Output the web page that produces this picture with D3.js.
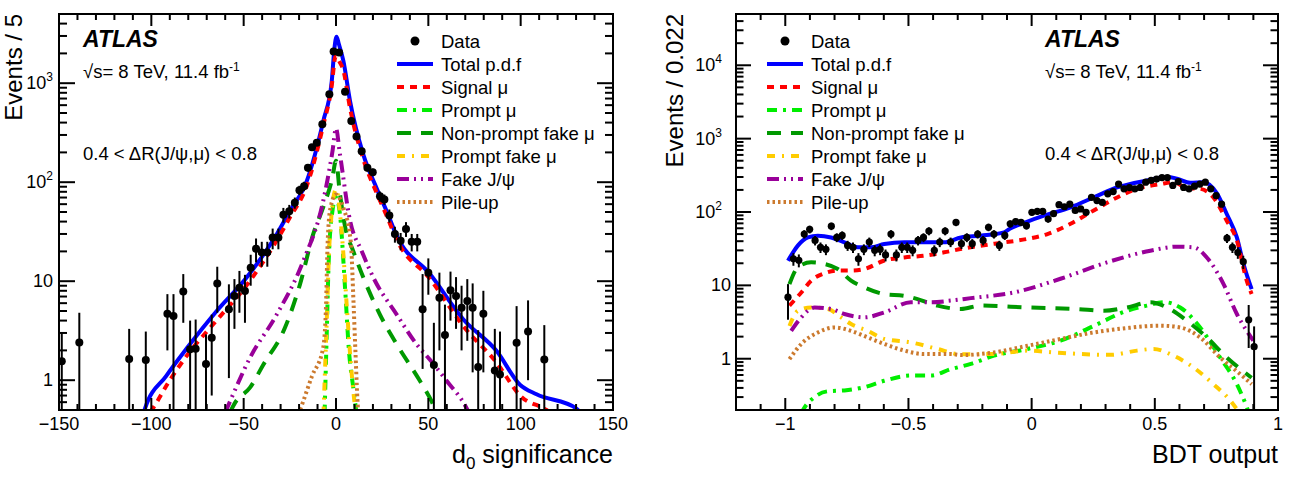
<!DOCTYPE html>
<html>
<head>
<meta charset="utf-8">
<script src="https://cdn.jsdelivr.net/npm/d3@7"></script>
<style>
  html, body { margin: 0; padding: 0; background: #fff; }
  svg { display: block; }
</style>
</head>
<body>
<svg id="chart" width="1293" height="477"></svg>
<script>
/* ── d0 significance panel: data points [x, y, lo, hi] ── */
const D0_DATA = [
  [-148.5, 1.55, 0.3, 3.0], [-139.0, 2.40, 0.3, 4.8], [-112.0, 1.64, 0.3, 3.3],
  [-103.0, 1.60, 0.3, 3.1], [-91.3, 4.70, 2.0, 7.4], [-88.0, 4.45, 0.3, 7.4],
  [-82.7, 7.85, 3.8, 11.8], [-79.0, 2.05, 0.3, 4.0], [-76.0, 2.08, 0.3, 4.1],
  [-70.4, 1.46, 0.3, 2.9], [-67.3, 2.68, 0.7, 4.6], [-64.3, 9.50, 4.8, 14.0],
  [-58.0, 5.20, 1.05, 9.3], [-55.0, 7.10, 3.3, 10.5], [-52.3, 8.60, 4.8, 12.7],
  [-49.3, 7.95, 3.8, 11.6], [-46.2, 13.7, 9.0, 18.5], [-43.3, 21.3, 15.5, 27],
  [-40.2, 19.5, 14, 25], [-37.2, 19.5, 14, 25], [-34.3, 27.7, 21, 34],
  [-31.2, 27.7, 21, 34], [-28.5, 47, 39, 55], [-25.3, 51, 43, 59],
  [-22.3, 62, 54, 70], [-19.8, 83, 74, 92], [-17.3, 91, 81, 101],
  [-15.2, 140, 128, 152], [-13.0, 226, 211, 241], [-10.4, 250, 234, 266],
  [-7.4, 384, 364, 404], [-3.6, 772, 744, 800], [-1.3, 2090, 2044, 2136],
  [1.7, 2040, 1995, 2085], [4.9, 822, 793, 851], [8.3, 414, 394, 434],
  [11.1, 290, 273, 307], [13.9, 206, 192, 220], [17.0, 140, 128, 152],
  [19.9, 126, 115, 137], [23.8, 72, 63.5, 80.5], [26.2, 67, 59, 75],
  [28.9, 46, 39, 53], [31.9, 30, 24.5, 35.5], [35.0, 25.6, 20.5, 30.7],
  [37.9, 33.6, 28, 39.5], [41.0, 25, 20, 30], [44.0, 25, 20, 30],
  [46.9, 5.2, 1.3, 11.8], [50.0, 12.2, 7.3, 17], [53.0, 1.42, 0.3, 3.8],
  [56.0, 6.8, 2.0, 12.2], [59.0, 2.86, 0.3, 5.8], [62.0, 8.1, 4.0, 12.5],
  [65.0, 7.1, 3.3, 11.0], [68.0, 5.4, 2.0, 9.0], [71.1, 6.3, 2.5, 10.5],
  [74.0, 5.4, 1.2, 9.5], [77.0, 1.36, 0.3, 3.2], [79.8, 4.7, 1.2, 8.0],
  [86.0, 1.25, 0.3, 3.3], [88.8, 1.14, 0.3, 3.1], [97.8, 2.39, 0.3, 5.6],
  [104.0, 3.1, 1.0, 6.4], [112.8, 1.62, 0.3, 3.6]
];

/* ── d0 significance panel: fit components [x, y] ── */
const D0_TOTAL = [
  [-104, 0.48], [-103.4, 0.52], [-92, 1.1], [-80.8, 2.1], [-64.6, 5.0], [-48.4, 10.9],
  [-32, 30], [-25, 51], [-15.9, 102], [-6.9, 414], [-2.3, 1050], [-0.8, 2300],
  [0.3, 2950], [1.5, 2500], [4, 1680], [7.6, 660], [14.8, 190], [22, 87],
  [27.4, 51], [32.9, 28.7], [50.9, 11.8], [69, 4.1], [87, 1.97], [99.6, 0.9],
  [108.6, 0.72], [130, 0.52], [132, 0.48]
];
const D0_SIGNAL = [
  [-100.5, 0.48], [-99.8, 0.5], [-90, 1.0], [-80, 1.85], [-64, 4.15], [-48, 9.3],
  [-32, 26], [-25, 44], [-16, 90], [-7, 370], [-2.3, 950], [-0.5, 1800], [0.3, 1900],
  [1.5, 1700], [4, 1350], [7.6, 560], [14.8, 170], [22, 78], [27.4, 46],
  [33, 26], [51, 10.5], [69, 3.5], [87, 1.5], [100, 0.69], [114, 0.5], [116, 0.47]
];
const D0_PROMPT = [
  [-6.2, 0.45], [-5, 3], [-4, 15], [-2, 50], [0, 70], [2, 50], [5, 8],
  [7, 2], [9.5, 0.8], [11.2, 0.45]
];
const D0_NONPROMPT = [
  [-57.5, 0.47], [-54.7, 0.59], [-46.6, 0.84], [-39.3, 1.44], [-27.6, 3.4],
  [-19.5, 9.3], [-12.3, 30], [-6.9, 56], [-2, 110], [0, 165], [2, 80],
  [5, 35], [9.4, 20], [14.8, 10.9], [23.8, 4.6], [32.9, 2.3], [45.5, 0.98],
  [51.8, 0.61], [54.5, 0.47]
];
const D0_PROMPTFAKE = [
  [-6.8, 0.45], [-5, 4], [-3.5, 25], [0, 85], [3.5, 25], [6, 5], [8, 1.5],
  [10, 0.6], [10.8, 0.45]
];
const D0_FAKEJPSI = [
  [-60, 0.47], [-57.4, 0.61], [-46.6, 1.68], [-32.1, 4.6], [-17.7, 16],
  [-6.9, 65], [-2, 200], [0, 350], [2, 200], [7.6, 41], [14, 20],
  [20.2, 10.9], [32.9, 4.6], [43.7, 2.3], [51, 1.6], [60, 0.98],
  [70.8, 0.52], [72, 0.47]
];
const D0_PILEUP = [
  [-20.5, 0.45], [-19.5, 0.5], [-13, 1.1], [-7, 2.1], [-5.5, 5], [-4.5, 25],
  [-3, 55], [0, 75], [4, 55], [8, 25], [9.5, 6], [10.5, 2], [12, 0.5], [12.5, 0.45]
];

/* ── BDT output panel: data points [x, y, err] ── */
const BDT_DATA = [
  [-0.989, 6.9, 3.5], [-0.967, 23, 4.5], [-0.945, 22, 4.4], [-0.923, 50, 6.5],
  [-0.901, 58, 7], [-0.879, 41, 6], [-0.857, 33, 5.4], [-0.835, 31, 5.2],
  [-0.813, 64, 7.4], [-0.791, 45, 6.2], [-0.769, 48, 6.4], [-0.747, 35, 5.5],
  [-0.725, 33, 5.4], [-0.703, 23, 4.5], [-0.681, 31, 5.2], [-0.659, 39, 5.8],
  [-0.637, 30, 5.1], [-0.615, 31, 5.2], [-0.593, 26, 4.8], [-0.571, 50, 6.5],
  [-0.549, 26, 4.8], [-0.527, 33, 5.4], [-0.505, 33, 5.4], [-0.483, 30, 5.1],
  [-0.461, 41, 6], [-0.439, 45, 6.2], [-0.417, 55, 6.9], [-0.395, 30, 5.1],
  [-0.373, 39, 5.8], [-0.351, 55, 6.9], [-0.329, 39, 5.8], [-0.307, 72, 7.9],
  [-0.285, 37, 5.7], [-0.263, 45, 6.2], [-0.241, 37, 5.7], [-0.219, 50, 6.5],
  [-0.197, 41, 6], [-0.175, 62, 7.3], [-0.153, 50, 6.5], [-0.131, 35, 5.5],
  [-0.109, 48, 6.4], [-0.087, 69, 7.7], [-0.065, 74, 8], [-0.043, 72, 7.9],
  [-0.021, 65, 7.5], [0.001, 99, 9.2], [0.023, 102, 9.4], [0.045, 102, 9.4],
  [0.067, 80, 8.3], [0.089, 95, 9], [0.111, 126, 10.4], [0.133, 118, 10.1],
  [0.155, 128, 10.5], [0.177, 105, 9.5], [0.199, 110, 9.7], [0.221, 99, 9.2],
  [0.243, 158, 11.6], [0.265, 143, 11.1], [0.287, 135, 10.8], [0.309, 177, 12.3],
  [0.331, 190, 12.7], [0.353, 240, 14.3], [0.375, 207, 13.3], [0.397, 215, 13.5],
  [0.419, 207, 13.3], [0.441, 216, 13.6], [0.463, 255, 14.7], [0.485, 269, 15.1],
  [0.507, 281, 15.5], [0.529, 295, 15.9], [0.551, 295, 15.9], [0.573, 230, 14],
  [0.595, 260, 14.9], [0.617, 216, 13.6], [0.639, 207, 13.3], [0.661, 225, 13.9],
  [0.683, 240, 14.3], [0.705, 255, 14.7], [0.727, 207, 13.3], [0.749, 167, 11.9],
  [0.771, 128, 10.5], [0.793, 44, 6.2], [0.815, 33, 5.4], [0.837, 28, 5],
  [0.859, 21, 4.3], [0.881, 3.4, 2.0], [0.903, 1.46, 1.3]
];

/* ── BDT output panel: fit components [x, y] ── */
const BDT_TOTAL = [
  [-0.989, 21.7], [-0.969, 28], [-0.949, 34.8], [-0.928, 41], [-0.908, 45],
  [-0.868, 47.6], [-0.814, 45], [-0.76, 38.6], [-0.706, 33], [-0.652, 33],
  [-0.598, 36.7], [-0.517, 38.6], [-0.436, 38.6], [-0.355, 38.6], [-0.287, 45],
  [-0.206, 47.6], [-0.112, 52.8], [-0.085, 60], [-0.017, 74], [0.05, 89],
  [0.158, 116], [0.252, 158], [0.347, 216], [0.468, 269], [0.549, 300],
  [0.59, 285], [0.644, 250], [0.698, 255], [0.752, 180], [0.792, 94],
  [0.833, 45], [0.86, 19.6], [0.893, 8.9]
];
const BDT_SIGNAL = [
  [-0.983, 5.3], [-0.935, 8.0], [-0.895, 11.6], [-0.841, 14.6], [-0.787, 15.9],
  [-0.733, 15.9], [-0.679, 16.7], [-0.598, 21.8], [-0.517, 24], [-0.436, 25.4],
  [-0.355, 28.2], [-0.274, 32], [-0.15, 37], [-0.017, 43], [0.064, 50],
  [0.158, 69], [0.252, 105], [0.347, 158], [0.428, 207], [0.522, 240],
  [0.576, 255], [0.63, 212], [0.684, 207], [0.738, 158], [0.792, 76],
  [0.833, 41], [0.873, 11.6], [0.893, 7.6]
];
const BDT_PROMPT = [
  [-0.935, 0.18], [-0.928, 0.2], [-0.881, 0.30], [-0.827, 0.36], [-0.76, 0.37],
  [-0.679, 0.41], [-0.598, 0.50], [-0.49, 0.59], [-0.409, 0.59], [-0.328, 0.72],
  [-0.247, 0.85], [-0.153, 1.1], [-0.017, 1.36], [0.117, 1.76], [0.252, 2.8],
  [0.387, 4.5], [0.468, 5.3], [0.536, 5.9], [0.603, 5.0], [0.684, 2.67],
  [0.765, 1.04], [0.833, 0.45], [0.873, 0.22], [0.88, 0.19]
];
const BDT_NONPROMPT = [
  [-0.983, 10.4], [-0.949, 17.6], [-0.895, 20.6], [-0.841, 19.6], [-0.787, 16.7],
  [-0.733, 11.6], [-0.679, 9.4], [-0.598, 7.6], [-0.517, 7.2], [-0.463, 6.5],
  [-0.382, 5.3], [-0.287, 4.76], [-0.206, 5.3], [-0.017, 5.0], [0.185, 4.76],
  [0.293, 4.5], [0.387, 5.0], [0.482, 5.9], [0.549, 5.0], [0.63, 3.3],
  [0.711, 1.95], [0.792, 1.04], [0.873, 0.62], [0.893, 0.55]
];
const BDT_PROMPTFAKE = [
  [-0.983, 2.8], [-0.949, 4.5], [-0.895, 5.0], [-0.827, 4.76], [-0.773, 3.66],
  [-0.733, 2.97], [-0.665, 2.4], [-0.598, 1.86], [-0.49, 1.67], [-0.382, 1.36],
  [-0.287, 1.15], [-0.153, 1.16], [-0.017, 1.29], [0.09, 1.22], [0.198, 1.16],
  [0.32, 1.13], [0.428, 1.29], [0.495, 1.36], [0.576, 1.1], [0.657, 0.76],
  [0.738, 0.45], [0.806, 0.27], [0.833, 0.205], [0.84, 0.19]
];
const BDT_FAKEJPSI = [
  [-0.976, 2.4], [-0.935, 3.66], [-0.881, 5.0], [-0.814, 4.76], [-0.76, 4.07],
  [-0.679, 3.66], [-0.598, 4.28], [-0.49, 5.88], [-0.409, 5.88], [-0.328, 6.2],
  [-0.247, 6.7], [-0.072, 8.0], [0.117, 12.3], [0.306, 20.6], [0.482, 29.7],
  [0.59, 33.7], [0.657, 33], [0.711, 24], [0.779, 10.4], [0.833, 4.07],
  [0.873, 2.4], [0.9, 1.76]
];
const BDT_PILEUP = [
  [-0.983, 0.99], [-0.935, 1.59], [-0.868, 2.28], [-0.8, 2.67], [-0.733, 2.4],
  [-0.665, 1.95], [-0.598, 1.59], [-0.517, 1.29], [-0.436, 1.16], [-0.328, 1.16],
  [-0.287, 1.12], [-0.153, 1.22], [-0.017, 1.5], [0.117, 1.86], [0.252, 2.28],
  [0.387, 2.62], [0.522, 2.82], [0.603, 2.67], [0.684, 1.95], [0.765, 1.04],
  [0.846, 0.62], [0.893, 0.45]
];

/* ── axis tick labels ── */
const D0_XTICKS  = [-150, -100, -50, 0, 50, 100, 150];
const D0_YTICKS  = [1, 10, 100, 1000];
const BDT_XTICKS = [-1, -0.5, 0, 0.5, 1];
const BDT_YTICKS = [1, 10, 100, 1000, 10000];

/* ── legend ── */
const LEGEND_LABELS = ['Data', 'Total p.d.f', 'Signal μ', 'Prompt μ',
  'Non-prompt fake μ', 'Prompt fake μ', 'Fake J/ψ', 'Pile-up'];

const FONT = '"Liberation Sans", Arial, Helvetica, sans-serif';

const STYLES = {
  total:      { color: '#0000ff', dash: null },
  signal:     { color: '#ff0000', dash: '7,6' },
  prompt:     { color: '#00ee00', dash: '10,6,3,6' },
  nonprompt:  { color: '#009900', dash: '14,10' },
  promptfake: { color: '#ffcc00', dash: '8,7,2,7' },
  fakejpsi:   { color: '#990099', dash: '12,5,2,5,2,5' },
  pileup:     { color: '#cc7a2e', dash: '2.5,3' },
};
const LEGEND_KEYS = [null, 'total', 'signal', 'prompt', 'nonprompt', 'promptfake', 'fakejpsi', 'pileup'];

const svg = d3.select('#chart');

function fmtTick(v) {
  const s = String(v);
  return s.startsWith('-') ? '−' + s.slice(1) : s;
}

function drawPanel(cfg) {
  const { id, fx0, fx1, fy0, fy1 } = cfg;
  const x = d3.scaleLinear().domain(cfg.xDomain).range([fx0, fx1]);
  const y = d3.scaleLog().domain(cfg.yDomain).range([fy1, fy0]);
  const g = svg.append('g');

  g.append('clipPath').attr('id', 'clip-' + id)
    .append('rect')
    .attr('x', fx0).attr('y', fy0)
    .attr('width', fx1 - fx0).attr('height', fy1 - fy0);

  /* ── fit curves ── */
  const line = d3.line()
    .x(d => x(d[0]))
    .y(d => y(d[1]))
    .curve(d3.curveMonotoneX);

  const plot = g.append('g').attr('clip-path', `url(#clip-${id})`);
  cfg.curves.forEach(([key, pts]) => {
    const st = STYLES[key];
    plot.append('path')
      .attr('d', line(pts))
      .attr('fill', 'none')
      .attr('stroke', st.color)
      .attr('stroke-width', 4)
      .attr('stroke-dasharray', st.dash)
      .attr('stroke-linejoin', 'round');
  });

  /* ── data points ── */
  const yBottom = cfg.yDomain[0];
  cfg.data.forEach(d => {
    const lo = cfg.asym ? d[2] : d[1] - d[2];
    const hi = cfg.asym ? d[3] : d[1] + d[2];
    plot.append('line')
      .attr('x1', x(d[0])).attr('x2', x(d[0]))
      .attr('y1', y(Math.max(lo, yBottom * 0.5)))
      .attr('y2', y(hi))
      .attr('stroke', '#000').attr('stroke-width', 2);
    plot.append('circle')
      .attr('cx', x(d[0])).attr('cy', y(d[1]))
      .attr('r', cfg.markerR).attr('fill', '#000');
  });

  /* ── frame ── */
  g.append('rect')
    .attr('x', fx0).attr('y', fy0)
    .attr('width', fx1 - fx0).attr('height', fy1 - fy0)
    .attr('fill', 'none').attr('stroke', '#000').attr('stroke-width', 2);

  /* ── x ticks (bottom + top mirror) ── */
  const xMinor = x.ticks(cfg.xMinorCount);
  xMinor.forEach(v => {
    const major = cfg.xTicks.some(t => Math.abs(t - v) < 1e-9);
    const len = major ? 12 : 6;
    g.append('line').attr('x1', x(v)).attr('x2', x(v))
      .attr('y1', fy1).attr('y2', fy1 - len)
      .attr('stroke', '#000').attr('stroke-width', 2);
    g.append('line').attr('x1', x(v)).attr('x2', x(v))
      .attr('y1', fy0).attr('y2', fy0 + len)
      .attr('stroke', '#000').attr('stroke-width', 2);
  });
  cfg.xTicks.forEach(v => {
    g.append('text')
      .attr('x', x(v)).attr('y', fy1 + 20)
      .attr('text-anchor', 'middle')
      .attr('font-family', FONT).attr('font-size', 18)
      .attr('fill', '#000')
      .text(fmtTick(v));
  });

  /* ── y ticks (log, left + right mirror) ── */
  const [ymin, ymax] = cfg.yDomain;
  for (let e = Math.floor(Math.log10(ymin)); e <= Math.ceil(Math.log10(ymax)); e++) {
    for (let m = 1; m <= 9; m++) {
      const v = m * Math.pow(10, e);
      if (v < ymin || v > ymax) continue;
      const len = m === 1 ? cfg.yMajorLen : cfg.yMajorLen / 2;
      g.append('line').attr('x1', fx0).attr('x2', fx0 + len)
        .attr('y1', y(v)).attr('y2', y(v))
        .attr('stroke', '#000').attr('stroke-width', 2);
      g.append('line').attr('x1', fx1).attr('x2', fx1 - len)
        .attr('y1', y(v)).attr('y2', y(v))
        .attr('stroke', '#000').attr('stroke-width', 2);
    }
  }
  cfg.yTicks.forEach(v => {
    const exp = Math.round(Math.log10(v));
    const t = g.append('text')
      .attr('y', y(v) + 6)
      .attr('text-anchor', 'end')
      .attr('font-family', FONT).attr('font-size', 18)
      .attr('fill', '#000');
    if (exp <= 1) {
      t.attr('x', fx0 - cfg.yLabelGap).text(String(v));
    } else {
      t.attr('x', fx0 - cfg.yLabelGap - cfg.yPowGap);
      t.append('tspan').text('10');
      t.append('tspan').attr('dy', -8).attr('font-size', 12).text(String(exp));
    }
  });

  /* ── axis titles ── */
  const xt = g.append('text')
    .attr('x', fx1).attr('y', 463)
    .attr('text-anchor', 'end')
    .attr('font-family', FONT).attr('font-size', 25).attr('fill', '#000');
  if (cfg.xTitleSub) {
    xt.append('tspan').text(cfg.xTitle);
    xt.append('tspan').attr('dy', 6).attr('font-size', 17).text(cfg.xTitleSub);
    xt.append('tspan').attr('dy', -6).text(cfg.xTitleRest);
  } else {
    xt.text(cfg.xTitle);
  }
  g.append('text')
    .attr('transform', `translate(${cfg.yTitleX},${fy0}) rotate(-90)`)
    .attr('text-anchor', 'end')
    .attr('font-family', FONT).attr('font-size', 24).attr('fill', '#000')
    .text(cfg.yTitle);

  /* ── ATLAS label block ── */
  g.append('text')
    .attr('x', cfg.atlasX).attr('y', 47)
    .attr('font-family', FONT).attr('font-size', 23)
    .attr('font-weight', 'bold').attr('font-style', 'italic')
    .text('ATLAS');
  const lumi = g.append('text')
    .attr('x', cfg.atlasX).attr('y', 78)
    .attr('font-family', FONT).attr('font-size', 18.5);
  lumi.append('tspan').text('√s= 8 TeV, 11.4 fb');
  lumi.append('tspan').attr('dy', -7).attr('font-size', 12).text('-1');
  g.append('text')
    .attr('x', cfg.atlasX).attr('y', 160)
    .attr('font-family', FONT).attr('font-size', 18.5)
    .text('0.4 < ΔR(J/ψ,μ) < 0.8');

  /* ── legend ── */
  LEGEND_LABELS.forEach((label, i) => {
    const cy = 41 + i * 23;
    const key = LEGEND_KEYS[i];
    if (key === null) {
      g.append('circle').attr('cx', cfg.legX + 18).attr('cy', cy)
        .attr('r', 4.5).attr('fill', '#000');
    } else {
      const st = STYLES[key];
      g.append('line')
        .attr('x1', cfg.legX).attr('x2', cfg.legX + 36)
        .attr('y1', cy).attr('y2', cy)
        .attr('stroke', st.color).attr('stroke-width', 4)
        .attr('stroke-dasharray', st.dash);
    }
    g.append('text')
      .attr('x', cfg.legX + 44).attr('y', cy + 6.5)
      .attr('font-family', FONT).attr('font-size', 18.5).attr('fill', '#000')
      .text(label);
  });
}

drawPanel({
  id: 'd0', fx0: 59, fx1: 613, fy0: 14, fy1: 410,
  xDomain: [-150, 150], yDomain: [0.5, 5000],
  xTicks: D0_XTICKS, xMinorCount: 30, yTicks: D0_YTICKS,
  yMajorLen: 16, yLabelGap: 6, yPowGap: 0,
  data: D0_DATA, asym: true, markerR: 4,
  curves: [
    ['total', D0_TOTAL], ['signal', D0_SIGNAL], ['prompt', D0_PROMPT],
    ['nonprompt', D0_NONPROMPT], ['promptfake', D0_PROMPTFAKE],
    ['fakejpsi', D0_FAKEJPSI], ['pileup', D0_PILEUP],
  ],
  xTitle: 'd', xTitleSub: '0', xTitleRest: ' significance',
  yTitle: 'Events / 5', yTitleX: 22,
  atlasX: 83, legX: 397,
});

drawPanel({
  id: 'bdt', fx0: 736, fx1: 1278, fy0: 14, fy1: 410,
  xDomain: [-1.2, 1], yDomain: [0.2, 50000],
  xTicks: BDT_XTICKS, xMinorCount: 22, yTicks: BDT_YTICKS,
  yMajorLen: 15, yLabelGap: 5, yPowGap: 9,
  data: BDT_DATA, asym: false, markerR: 3.6,
  curves: [
    ['total', BDT_TOTAL], ['signal', BDT_SIGNAL], ['prompt', BDT_PROMPT],
    ['nonprompt', BDT_NONPROMPT], ['promptfake', BDT_PROMPTFAKE],
    ['fakejpsi', BDT_FAKEJPSI], ['pileup', BDT_PILEUP],
  ],
  xTitle: 'BDT output',
  yTitle: 'Events / 0.022', yTitleX: 683,
  atlasX: 1045, legX: 767,
});
</script>
</body>
</html>
